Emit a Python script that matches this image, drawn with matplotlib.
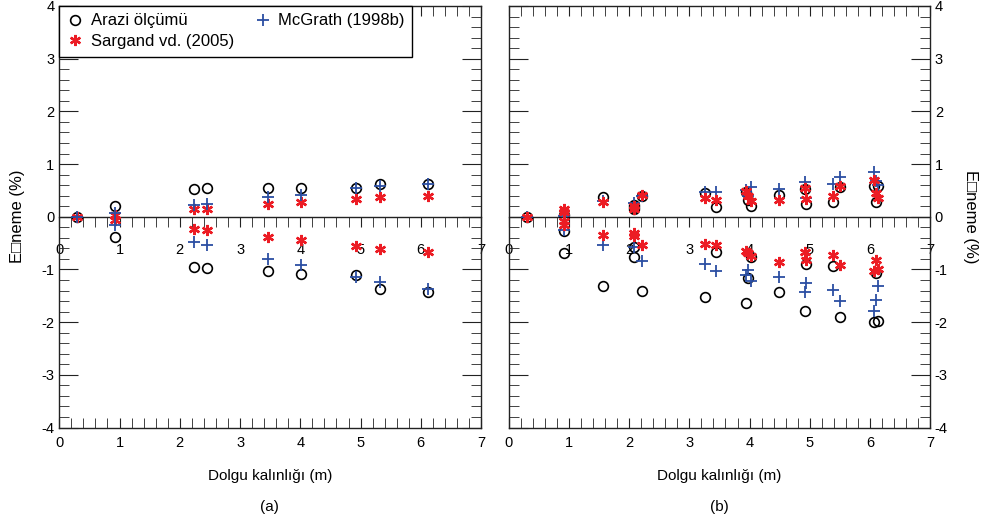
import matplotlib
matplotlib.use("Agg")
import matplotlib.pyplot as plt
from matplotlib.ticker import MultipleLocator

plt.rcParams['font.family'] = ['Liberation Sans', 'DejaVu Sans']
plt.rcParams['axes.unicode_minus'] = False

# ---- panel (a) ----
xa = [0.30, 0.92, 0.92, 2.24, 2.24, 2.45, 2.45, 3.46, 3.46, 4.01, 4.01,
      4.92, 4.92, 5.32, 5.32, 6.12, 6.12]
ya_field = [0.0, 0.20, -0.39, 0.52, -0.95, 0.54, -0.97, 0.54, -1.03, 0.54, -1.08,
            0.54, -1.11, 0.62, -1.37, 0.63, -1.43]
ya_mcgrath = [0.0, 0.07, -0.15, 0.23, -0.48, 0.25, -0.53, 0.37, -0.80, 0.41, -0.91,
              0.54, -1.15, 0.58, -1.24, 0.62, -1.37]
ya_sargand = [0.0, 0.03, -0.06, 0.15, -0.24, 0.15, -0.26, 0.24, -0.39, 0.28, -0.45,
              0.34, -0.55, 0.37, -0.61, 0.40, -0.67]

# ---- panel (b) ----
xb_field = [0.30, 0.92, 0.92, 0.92, 1.56, 1.56, 2.08, 2.08, 2.08, 2.08, 2.08,
            2.21, 2.21, 3.26, 3.26, 3.44, 3.44, 3.94, 3.94, 3.98, 3.98, 4.02, 4.02,
            4.49, 4.49, 4.93, 4.93, 4.94, 4.94, 5.39, 5.39, 5.50, 5.50,
            6.07, 6.07, 6.14, 6.14, 6.10, 6.10]
yb_field = [0.0, 0.04, -0.28, -0.68, 0.38, -1.31, 0.22, 0.18, 0.14, -0.57, -0.76,
            0.40, -1.40, 0.45, -1.53, 0.18, -0.66, 0.46, -1.64, 0.32, -1.17, 0.20, -0.76,
            0.41, -1.42, 0.53, -1.78, 0.25, -0.89, 0.28, -0.94, 0.56, -1.91,
            0.59, -1.99, 0.59, -1.97, 0.28, -1.07]

xb_mcgrath = [0.30, 0.92, 0.92, 1.56, 1.56, 2.08, 2.08, 2.21, 2.21, 3.26, 3.26,
              3.44, 3.44, 3.94, 3.94, 3.98, 3.98, 4.02, 4.02, 4.49, 4.49,
              4.93, 4.93, 4.94, 4.94, 5.39, 5.39, 5.50, 5.50,
              6.07, 6.07, 6.10, 6.10, 6.14, 6.14]
yb_mcgrath = [0.0, 0.02, -0.25, 0.30, -0.54, 0.26, -0.57, 0.40, -0.84, 0.46, -0.90,
              0.46, -1.03, 0.50, -1.11, 0.40, -1.01, 0.56, -1.22, 0.53, -1.15,
              0.66, -1.43, 0.35, -1.26, 0.62, -1.39, 0.75, -1.59,
              0.84, -1.78, 0.67, -1.58, 0.60, -1.32]

xb_sargand = [0.30, 0.92, 0.92, 0.92, 0.92, 1.56, 1.56, 2.08, 2.08, 2.08, 2.08,
              2.21, 2.21, 3.26, 3.26, 3.44, 3.44, 3.94, 3.94, 3.98, 3.98, 4.02, 4.02,
              4.49, 4.49, 4.93, 4.93, 4.94, 4.94, 5.39, 5.39, 5.50, 5.50,
              6.07, 6.07, 6.10, 6.10, 6.14, 6.14]
yb_sargand = [0.0, 0.15, 0.09, -0.09, -0.15, 0.28, -0.35, 0.20, 0.14, -0.30, -0.36,
              0.42, -0.54, 0.35, -0.52, 0.32, -0.54, 0.48, -0.65, 0.39, -0.69, 0.29, -0.74,
              0.31, -0.85, 0.54, -0.66, 0.34, -0.82, 0.40, -0.72, 0.58, -0.91,
              0.70, -1.03, 0.45, -0.82, 0.36, -1.00]

ylabel = "E\u25a1neme (%)"
xlabel = "Dolgu kalınlığı (m)"

RED = "#ec1c24"
BLUE = "#2b4ea3"
field_kw = dict(ls="none", marker="o", ms=7, mfc="none", mec="black", mew=1.2)
mcg_kw = dict(ls="none", marker="+", ms=8, color=BLUE, mew=1.3)
sar_kw = dict(ls="none", marker=(6, 2, 0), ms=8, color=RED, mew=1.7)

fig = plt.figure(figsize=(9.96, 5.23), dpi=100)
ax_a = fig.add_axes([0.0595, 0.1826, 0.4235, 0.806])
ax_b = fig.add_axes([0.511, 0.1826, 0.4227, 0.806])


def style(ax):
    ax.set_xlim(0, 7)
    ax.set_ylim(-4, 4)
    ax.xaxis.set_major_locator(MultipleLocator(1))
    ax.xaxis.set_minor_locator(MultipleLocator(0.2))
    ax.yaxis.set_major_locator(MultipleLocator(1))
    ax.yaxis.set_minor_locator(MultipleLocator(0.2))
    ax.tick_params(which="both", direction="in", top=True, right=True,
                   labelsize=10.5, color="#222222")
    ax.tick_params(axis="y", which="major", length=14)
    ax.tick_params(axis="y", which="minor", length=7)
    ax.tick_params(axis="x", which="both", length=7, pad=6)
    for sp in ax.spines.values():
        sp.set_linewidth(1.0)
        sp.set_color("#222222")
    # x axis drawn along the zero line
    sec = ax.secondary_xaxis(0.49999)
    sec.xaxis.set_major_locator(MultipleLocator(1))
    sec.xaxis.set_minor_locator(MultipleLocator(0.2))
    sec.tick_params(which="both", direction="out", length=7, labelsize=10.5,
                    pad=12, color="#222222")
    sec.spines["bottom"].set_linewidth(1.0)
    sec.spines["bottom"].set_color("#222222")
    ax.set_xlabel(xlabel, fontsize=11, labelpad=14)


style(ax_a)
style(ax_b)

# panel (a)
h_field, = ax_a.plot(xa, ya_field, label="Arazi ölçümü", **field_kw)
h_sar, = ax_a.plot(xa, ya_sargand, label="Sargand vd. (2005)", **sar_kw)
h_mcg, = ax_a.plot(xa, ya_mcgrath, label="McGrath (1998b)", **mcg_kw)
ax_a.set_ylabel(ylabel, fontsize=12, labelpad=12)
ax_a.legend(handles=[h_field, h_sar, h_mcg], ncol=2, loc="upper left",
            bbox_to_anchor=(0, 1), borderaxespad=0, fancybox=False,
            edgecolor="black", framealpha=1, fontsize=12, handlelength=1.0,
            handletextpad=0.45, columnspacing=1.2, borderpad=0.45,
            labelspacing=0.35)

# panel (b)
ax_b.plot(xb_field, yb_field, **field_kw)
ax_b.plot(xb_mcgrath, yb_mcgrath, **mcg_kw)
ax_b.plot(xb_sargand, yb_sargand, **sar_kw)
ax_b.tick_params(axis="y", labelleft=False, labelright=True)
ax_b.yaxis.set_label_position("right")
ax_b.set_ylabel(ylabel, fontsize=12, rotation=270, labelpad=22)

fig.text(0.271, 0.03, "(a)", ha="center", va="center", fontsize=11)
fig.text(0.7225, 0.03, "(b)", ha="center", va="center", fontsize=11)

fig.savefig("out.png", dpi=100)
